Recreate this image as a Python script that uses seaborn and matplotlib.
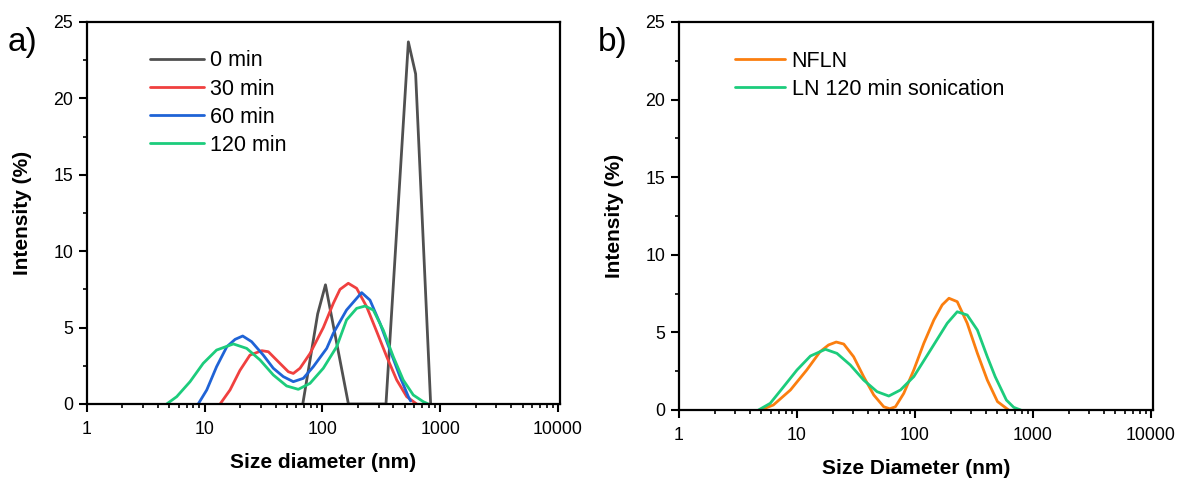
import numpy as np
import pandas as pd
import matplotlib
matplotlib.use("Agg")
import matplotlib.pyplot as plt
import matplotlib.ticker as mticker
import seaborn as sns

# ---------------- data ----------------
# panel a
x_0min = [68, 91, 106, 166, 346, 536, 618, 829]
y_0min = [0, 5.9, 7.8, 0, 0, 23.7, 21.6, 0]

x_30min = [13.5, 16.4, 19.9, 24.2, 30.5, 34.7, 43.5, 51.3, 56.5, 64.4, 78.3, 101.6,
           123.6, 140.8, 165.6, 195, 237, 289, 351, 427, 519, 631]
y_30min = [0, 0.92, 2.2, 3.2, 3.49, 3.42, 2.66, 2.11, 2.0, 2.34, 3.3, 5.0,
           6.59, 7.5, 7.9, 7.57, 6.37, 4.73, 3.1, 1.57, 0.48, 0]

x_60min = [8.8, 10.4, 12.6, 15.4, 18.1, 21.0, 25.0, 31.4, 38.2, 46.5, 56.5, 68.7,
           83.5, 108.6, 123.6, 160, 215, 253, 308, 374, 455, 536, 560]
y_60min = [0, 0.92, 2.44, 3.75, 4.23, 4.45, 4.08, 3.2, 2.34, 1.79, 1.46, 1.68,
           2.44, 3.64, 4.63, 6.15, 7.29, 6.8, 5.28, 3.53, 1.79, 0.48, 0.2]

x_120min = [4.75, 5.78, 7.5, 9.7, 12.6, 17.5, 22.7, 29.5, 38.2, 49.6, 62.3, 78.3,
            101.6, 132, 160, 195, 230, 270, 328, 399, 485, 590, 718, 792]
y_120min = [0, 0.48, 1.46, 2.66, 3.53, 3.93, 3.64, 2.88, 1.9, 1.18, 0.96, 1.35,
            2.34, 3.75, 5.5, 6.26, 6.41, 6.15, 4.84, 3.1, 1.57, 0.59, 0.15, 0]

# panel b
x_nfln = [4.88, 6.3, 8.8, 12.1, 15.7, 18.5, 21.5, 24.9, 30.2, 36.7, 44.7, 54.3,
          61.1, 68.3, 80.3, 97.7, 118.8, 144.5, 170, 194, 228, 277, 338, 410,
          500, 622]
y_nfln = [0, 0.32, 1.29, 2.58, 3.76, 4.19, 4.38, 4.25, 3.43, 2.15, 0.97, 0.21,
          0.08, 0.21, 1.07, 2.58, 4.3, 5.8, 6.77, 7.2, 6.98, 5.59, 3.65, 1.93,
          0.54, 0]

x_ln120 = [4.72, 5.93, 7.7, 10, 13, 17.4, 21.8, 28.3, 36.7, 47.7, 60, 75.3,
           97.7, 135.5, 187.6, 228, 277, 338, 410, 478, 595, 687, 787]
y_ln120 = [0, 0.43, 1.5, 2.58, 3.48, 3.91, 3.65, 2.9, 1.93, 1.18, 0.9, 1.29,
           2.15, 3.87, 5.59, 6.33, 6.12, 5.15, 3.43, 2.15, 0.64, 0.17, 0]

labels_a = ["0 min", "30 min", "60 min", "120 min"]
labels_b = ["NFLN", "LN 120 min sonication"]
x_ticks = [1, 10, 100, 1000, 10000]
y_ticks = [0, 5, 10, 15, 20, 25]

# ---------------- style ----------------
sns.set_style("ticks")
plt.rcParams["font.family"] = ["Liberation Sans", "DejaVu Sans"]
plt.rcParams["text.color"] = "black"
plt.rcParams["axes.labelcolor"] = "black"
plt.rcParams["xtick.color"] = "black"
plt.rcParams["ytick.color"] = "black"

colors_a = ["#505050", "#f0403f", "#1f63d6", "#1ccc7c"]
colors_b = ["#fb7e0f", "#1ccc7c"]

fig = plt.figure(figsize=(11.83, 4.78), dpi=100)
axA = fig.add_axes([87 / 1183, 1 - 404 / 478, 473 / 1183, 382 / 478])
axB = fig.add_axes([679 / 1183, 1 - 410 / 478, 474 / 1183, 388 / 478])


def style_axis(ax):
    ax.set_xscale("log")
    ax.set_xlim(1, 10400)
    ax.set_ylim(0, 25)
    ax.set_xticks(x_ticks)
    ax.xaxis.set_major_formatter(mticker.FuncFormatter(lambda v, p: f"{v:g}"))
    ax.xaxis.set_minor_locator(mticker.LogLocator(base=10, subs=np.arange(2, 10), numticks=20))
    ax.xaxis.set_minor_formatter(mticker.NullFormatter())
    ax.set_yticks(y_ticks)
    ax.yaxis.set_minor_locator(mticker.MultipleLocator(2.5))
    for s in ax.spines.values():
        s.set_linewidth(1.6)
        s.set_color("black")
    ax.tick_params(which="major", direction="out", length=6, width=1.5,
                   labelsize=12.8, colors="black")
    ax.tick_params(axis="x", which="major", pad=6)
    ax.tick_params(axis="y", which="major", pad=4)
    ax.tick_params(which="minor", direction="out", length=3, width=1.2, colors="black")


style_axis(axA)
style_axis(axB)

series_a = [(x_0min, y_0min), (x_30min, y_30min), (x_60min, y_60min), (x_120min, y_120min)]
for (xs, ys), lab, c in zip(series_a, labels_a, colors_a):
    df = pd.DataFrame({"x": xs, "y": ys})
    sns.lineplot(data=df, x="x", y="y", ax=axA, color=c, lw=2.0, label=lab,
                 estimator=None, sort=False)

series_b = [(x_nfln, y_nfln), (x_ln120, y_ln120)]
for (xs, ys), lab, c in zip(series_b, labels_b, colors_b):
    df = pd.DataFrame({"x": xs, "y": ys})
    sns.lineplot(data=df, x="x", y="y", ax=axB, color=c, lw=2.0, label=lab,
                 estimator=None, sort=False)

axA.set_xlabel("Size diameter (nm)", fontsize=15, fontweight="bold", labelpad=11, color="black")
axA.set_ylabel("Intensity (%)", fontsize=15, fontweight="bold", labelpad=15, color="black")
axB.set_xlabel("Size Diameter (nm)", fontsize=15, fontweight="bold", labelpad=11, color="black")
axB.set_ylabel("Intensity (%)", fontsize=15, fontweight="bold", labelpad=15, color="black")

axA.legend(loc="upper left", bbox_to_anchor=(0.115, 0.948), frameon=False,
           fontsize=15.5, handlelength=2.5, handletextpad=0.3, labelspacing=0.33,
           borderaxespad=0, labelcolor="black")
axB.legend(loc="upper left", bbox_to_anchor=(0.1, 0.948), frameon=False,
           fontsize=15.5, handlelength=2.33, handletextpad=0.3, labelspacing=0.33,
           borderaxespad=0, labelcolor="black")

fig.text(8 / 1183, 1 - 42 / 478, "a)", fontsize=24, va="center", ha="left")
fig.text(598 / 1183, 1 - 42 / 478, "b)", fontsize=24, va="center", ha="left")

fig.savefig("out.png", dpi=100)
